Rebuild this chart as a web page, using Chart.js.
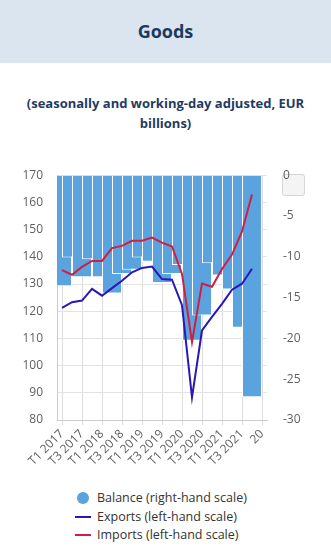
<!DOCTYPE html>
<html>
<head>
<meta charset="utf-8">
<script src="https://cdn.jsdelivr.net/npm/chart.js@4/dist/chart.umd.min.js"></script>
<style>
  html, body { margin: 0; padding: 0; background: #fff; }
  body { width: 331px; height: 548px; position: relative; overflow: hidden; font-family: "Open Sans", sans-serif; }
  #hdr { position: absolute; left: 0; top: 0; width: 331px; height: 63px; background: #dbe5f0; }
  #hdr h1 { margin: 0; position: absolute; left: 0; right: 0; top: 18px; text-align: center; font-size: 18px; line-height: 26px; font-weight: 700; color: #1c3a5e; }
  #sub { position: absolute; left: 0; right: 0; top: 93px; text-align: center; font-size: 13px; line-height: 20px; font-weight: 700; color: #1f3b62; }
  #btn { position: absolute; left: 282px; top: 174px; width: 23px; height: 22px; background: #f4f4f4; border: 1px solid #d6d6d6; border-radius: 3px; box-sizing: border-box; }
  #wrap { position: absolute; left: 0; top: 152px; width: 331px; height: 328px; }
  #legend { position: absolute; left: 75px; top: 489px; font-size: 12.5px; color: #333; }
  .item { height: 18.5px; line-height: 18.5px; position: relative; padding-left: 22px; white-space: nowrap; }
  .dot { position: absolute; left: 2px; top: 3px; width: 12px; height: 12px; border-radius: 50%; }
  .ln { position: absolute; left: 0; top: 8px; width: 16px; height: 2px; }
</style>
</head>
<body>
<div id="hdr"><h1>Goods</h1></div>
<div id="sub">(seasonally and working-day adjusted, EUR<br>billions)</div>
<div id="btn"></div>
<div id="wrap"><canvas id="c"></canvas></div>
<div id="legend"></div>
<script>
const categories = ["T1 2017","T2 2017","T3 2017","T4 2017","T1 2018","T2 2018","T3 2018","T4 2018",
  "T1 2019","T2 2019","T3 2019","T4 2019","T1 2020","T2 2020","T3 2020","T4 2020",
  "T1 2021","T2 2021","T3 2021","T4 2021","20"];
const balance = [-13.6,-10.1,-12.5,-10.3,-12.5,-14.5,-12.1,-11.6,-10.1,-10.6,-13.2,-12.1,-11.0,-20.3,-17.2,-10.8,-12.3,-14.0,-18.7,-27.2];
const exportsData = [121.2,123.3,123.9,128.2,125.7,128.5,131.2,134.3,135.9,136.4,131.8,131.6,122.2,88.3,112.9,117.9,122.7,127.9,130.1,135.6];
const importsData = [135.1,133.4,136.3,138.5,138.5,143.2,144.0,145.9,145.9,147.1,145.2,143.8,133.7,108.6,130.2,129.0,135.5,140.8,149.3,162.9];
const seriesNames = ["Balance (right-hand scale)","Exports (left-hand scale)","Imports (left-hand scale)"];
const colors = ["#5aa3de","#2b17b5","#cf1f45"];

const tickFont = { family: "Open Sans", size: 12 };
const grey = "#5f5f5f";

new Chart(document.getElementById('c'), {
  type: 'bar',
  data: {
    labels: categories,
    datasets: [
      { type: 'line', label: seriesNames[1], data: exportsData, yAxisID: 'y', borderColor: colors[1], backgroundColor: colors[1], borderWidth: 2, pointRadius: 0, tension: 0, order: 1 },
      { type: 'line', label: seriesNames[2], data: importsData, yAxisID: 'y', borderColor: colors[2], backgroundColor: colors[2], borderWidth: 2, pointRadius: 0, tension: 0, order: 2 },
      { type: 'bar', label: seriesNames[0], data: balance, yAxisID: 'y1', backgroundColor: colors[0], borderColor: '#ffffff', borderWidth: 1, barPercentage: 2, categoryPercentage: 1, order: 3 }
    ]
  },
  options: {
    responsive: true,
    maintainAspectRatio: false,
    animation: false,
    layout: { padding: { top: 10, left: 0, right: 0, bottom: 0 } },
    plugins: { legend: { display: false }, tooltip: { enabled: false } },
    scales: {
      x: {
        offset: true,
        grid: { offset: false, color: (ctx) => (ctx.index % 2 === 0 ? '#dcdcdc' : 'rgba(0,0,0,0)'), tickLength: 5 },
        border: { color: '#cccccc' },
        ticks: {
          autoSkip: false, maxRotation: 45, minRotation: 45, color: grey, font: tickFont, padding: 2,
          callback: function (v, i) { return i % 2 === 0 ? this.getLabelForValue(v) : ''; }
        },
        afterFit: (s) => { s.height = 60; }
      },
      y: {
        position: 'left', min: 80, max: 170,
        ticks: { stepSize: 10, color: grey, font: tickFont, padding: 14 },
        grid: { color: '#e3e3e3', drawTicks: false },
        border: { color: '#cccccc' },
        afterFit: (s) => { s.width = 57; }
      },
      y1: {
        position: 'right', min: -30, max: 0,
        ticks: { stepSize: 5, color: grey, font: tickFont, padding: 16 },
        grid: { drawOnChartArea: false, drawTicks: false },
        border: { display: false },
        afterFit: (s) => { s.width = 64; }
      }
    }
  }
});

// HTML legend built from the series names/colours
const lg = document.getElementById('legend');
seriesNames.forEach((name, i) => {
  const d = document.createElement('div');
  d.className = 'item';
  const sym = document.createElement('span');
  sym.className = i === 0 ? 'dot' : 'ln';
  sym.style.background = colors[i];
  d.appendChild(sym);
  d.appendChild(document.createTextNode(name));
  lg.appendChild(d);
});
</script>
</body>
</html>
